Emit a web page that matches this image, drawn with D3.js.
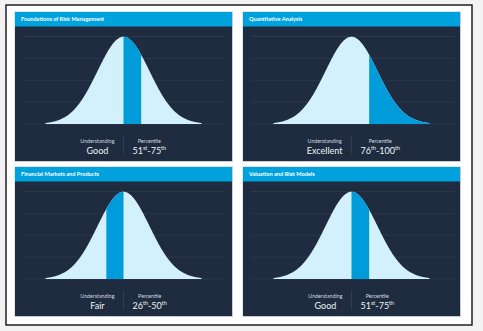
<!DOCTYPE html>
<html>
<head>
<meta charset="utf-8">
<script src="https://cdn.jsdelivr.net/npm/d3@7"></script>
<style>
  body { margin: 0; background: #f3f3f3; }
  svg { display: block; font-family: Lato, "Open Sans", sans-serif; }
</style>
</head>
<body>
<svg id="chart" width="483" height="331"></svg>
<script>
// topic titles, level of understanding and percentile band
const titles = ["Foundations of Risk Management", "Quantitative Analysis",
                "Financial Markets and Products", "Valuation and Risk Models"];
const levels = ["Good", "Excellent", "Fair", "Good"];
const pctLow = [51, 76, 26, 51];
const pctHigh = [75, 100, 50, 75];
const lowSuffix = ["st", "th", "th", "st"];
const highSuffix = ["th", "th", "th", "th"];
const yTicks = [0, 0.1, 0.2, 0.3, 0.4];

let svg = d3.select("#chart");
let pw = 217, ph = 149, head = 14.5;
let origins = [[15, 12], [243, 12], [15, 167], [243, 167]];

// outer frame
svg.append("rect")
  .attr("x", 6).attr("y", 5).attr("width", 466).attr("height", 320)
  .attr("fill", "#fff").attr("stroke", "#111").attr("stroke-width", 1.4);

// standard normal density sampled on [-3, 3]
let zs = d3.range(-3, 3.0001, 0.02);
let curve = zs.map(z => ({ z: z, d: Math.exp(-z * z / 2) / Math.sqrt(2 * Math.PI) }));
// cumulative share, used to find where a percentile sits
let cum = [0];
for (let i = 1; i < curve.length; i++) {
  cum.push(cum[i - 1] + (curve[i].d + curve[i - 1].d) / 2 * 0.02);
}
let total = cum[cum.length - 1];
function zAt(p) {
  let i = d3.bisectLeft(cum, p * total);
  return curve[Math.min(i, curve.length - 1)].z;
}

let x = d3.scaleLinear().domain([-3, 3]).range([30.5, 186.5]);
let y = d3.scaleLinear().domain([0, 0.4]).range([112, 24.5]);
let area = d3.area().x(d => x(d.z)).y0(y(0)).y1(d => y(d.d)).curve(d3.curveLinear);

function panel(i) {
  let g = svg.append("g").attr("transform", "translate(" + origins[i][0] + "," + origins[i][1] + ")");

  g.append("rect").attr("x", -0.5).attr("y", -0.5).attr("width", pw + 1.5).attr("height", ph + 1.5)
    .attr("fill", "#c5ccd5");
  g.append("rect").attr("width", pw).attr("height", ph).attr("fill", "#1f2c3f");
  g.append("rect").attr("width", pw).attr("height", head).attr("fill", "#00a2de");
  g.append("text").text(titles[i])
    .attr("x", 6).attr("y", 9.3)
    .attr("fill", "#fff").attr("font-size", 5.6).attr("font-weight", "bold");

  // gridlines
  g.selectAll(".grid").data(yTicks).enter().append("line")
    .attr("class", "grid")
    .attr("x1", 8).attr("x2", pw - 6)
    .attr("y1", d => y(d)).attr("y2", d => y(d))
    .attr("stroke", "#2c3b50").attr("stroke-width", 0.8);

  g.append("path").datum(curve).attr("d", area).attr("fill", "#d3f1fd");

  let z0 = zAt((pctLow[i] - 1) / 100), z1 = zAt(pctHigh[i] / 100);
  let band = curve.filter(d => d.z >= z0 - 1e-9 && d.z <= z1 + 1e-9);
  g.append("path").datum(band).attr("d", area).attr("fill", "#009bd9");

  // labels below the curve
  let cx = pw / 2;
  g.append("line").attr("x1", cx).attr("x2", cx).attr("y1", 124).attr("y2", 142)
    .attr("stroke", "#33435a").attr("stroke-width", 0.8);

  let left = g.append("g");
  let l1 = left.append("text").text("Understanding").attr("y", 130.5)
    .attr("font-size", 5.3).attr("fill", "#cfd7e0").attr("text-anchor", "middle");
  let l2 = left.append("text").text(levels[i]).attr("y", 141.5)
    .attr("font-size", 9).attr("fill", "#eef2f6").attr("text-anchor", "middle");
  let lw = Math.max(l1.node().getComputedTextLength(), l2.node().getComputedTextLength());
  left.attr("transform", "translate(" + (cx - 9 - lw / 2) + ",0)");

  let right = g.append("g");
  let r1 = right.append("text").text("Percentile").attr("y", 130.5)
    .attr("font-size", 5.3).attr("fill", "#cfd7e0").attr("text-anchor", "middle");
  let r2 = right.append("text").attr("y", 141.5)
    .attr("font-size", 9).attr("fill", "#eef2f6").attr("text-anchor", "middle");
  r2.append("tspan").text(pctLow[i]);
  r2.append("tspan").text(lowSuffix[i]).attr("font-size", 5.5).attr("dy", -3.2);
  r2.append("tspan").text("-" + pctHigh[i]).attr("dy", 3.2);
  r2.append("tspan").text(highSuffix[i]).attr("font-size", 5.5).attr("dy", -3.2);
  let rw = Math.max(r1.node().getComputedTextLength(), r2.node().getComputedTextLength());
  right.attr("transform", "translate(" + (cx + 9 + rw / 2) + ",0)");
}

for (let i = 0; i < titles.length; i++) panel(i);
</script>
</body>
</html>
